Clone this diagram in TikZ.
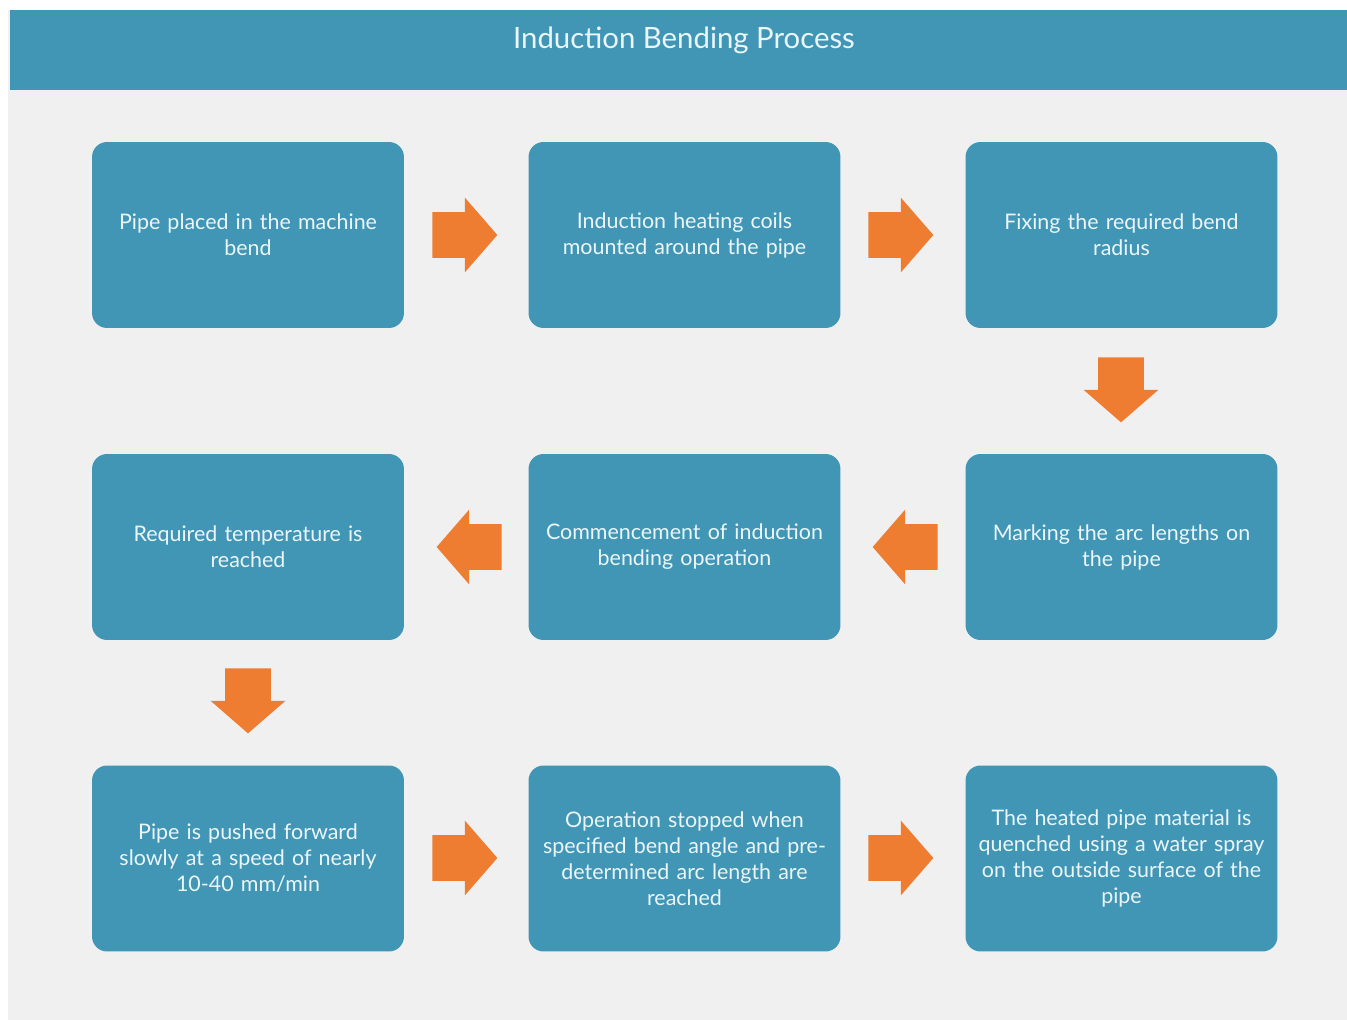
\documentclass[tikz,border=0pt]{standalone}
\usepackage{fontspec}
\setmainfont{Lato}
\usetikzlibrary{shapes.arrows}
\definecolor{teal}{HTML}{4296B5}
\definecolor{paper}{HTML}{F0F0F0}
\definecolor{flame}{HTML}{EE7D31}
\definecolor{ink}{HTML}{EAF6FA}
\tikzset{x=0.02cm, y=-0.02cm, font=\fontsize{12.2}{14.8}\selectfont}
\tikzstyle{step box} = [fill=teal, rectangle, rounded corners=0.3cm, minimum width=6.24cm, minimum height=3.72cm, text width=5.9cm, align=center, text=ink, inner sep=0pt]
\tikzstyle{flow} = [fill=flame, single arrow, single arrow head extend=0.29cm, single arrow tip angle=98, minimum height=1.3cm, inner xsep=0pt, inner ysep=0.45cm, anchor=tail]

\begin{document}
\begin{tikzpicture}
		\useasboundingbox [fill=white] (0,0) rectangle (1347,1020);
		\fill [paper] (8,10) rectangle (1347,1020);
		\fill [teal] (10,10) rectangle (1347,90);
		\node [text=ink, font=\fontsize{16.7}{18}\selectfont] (title) at (684,40) {Induction Bending Process};

		\node [step box] (place) at (248,235) {Pipe placed in the machine\\bend};
		\node [step box] (coils) at (684.5,235) {Induction heating coils\\mounted around the pipe};
		\node [step box] (radius) at (1121.5,235) {Fixing the required bend\\radius};
		\node [step box] (mark) at (1121.5,547) {Marking the arc lengths on\\the pipe};
		\node [step box] (start) at (684.5,547) {Commencement of induction\\bending operation};
		\node [step box] (temp) at (248,547) {Required temperature is\\reached};
		\node [step box] (push) at (248,858.5) {Pipe is pushed forward\\slowly at a speed of nearly\\10-40 mm/min};
		\node [step box] (stop) at (684.5,858.5) {Operation stopped when\\specified bend angle and pre-\\determined arc length are\\reached};
		\node [step box] (quench) at (1121.5,858.5) {The heated pipe material is\\quenched using a water spray\\on the outside surface of the\\pipe};

		\node [flow] (place-coils) at (432,235) {};
		\node [flow] (coils-radius) at (868,235) {};
		\node [flow, rotate=-90] (radius-mark) at (1121,357) {};
		\node [flow, rotate=180] (mark-start) at (938,547) {};
		\node [flow, rotate=180] (start-temp) at (502,547) {};
		\node [flow, rotate=-90] (temp-push) at (248,668) {};
		\node [flow] (push-stop) at (432,858) {};
		\node [flow] (stop-quench) at (868,858) {};
	\end{tikzpicture}
\end{document}
